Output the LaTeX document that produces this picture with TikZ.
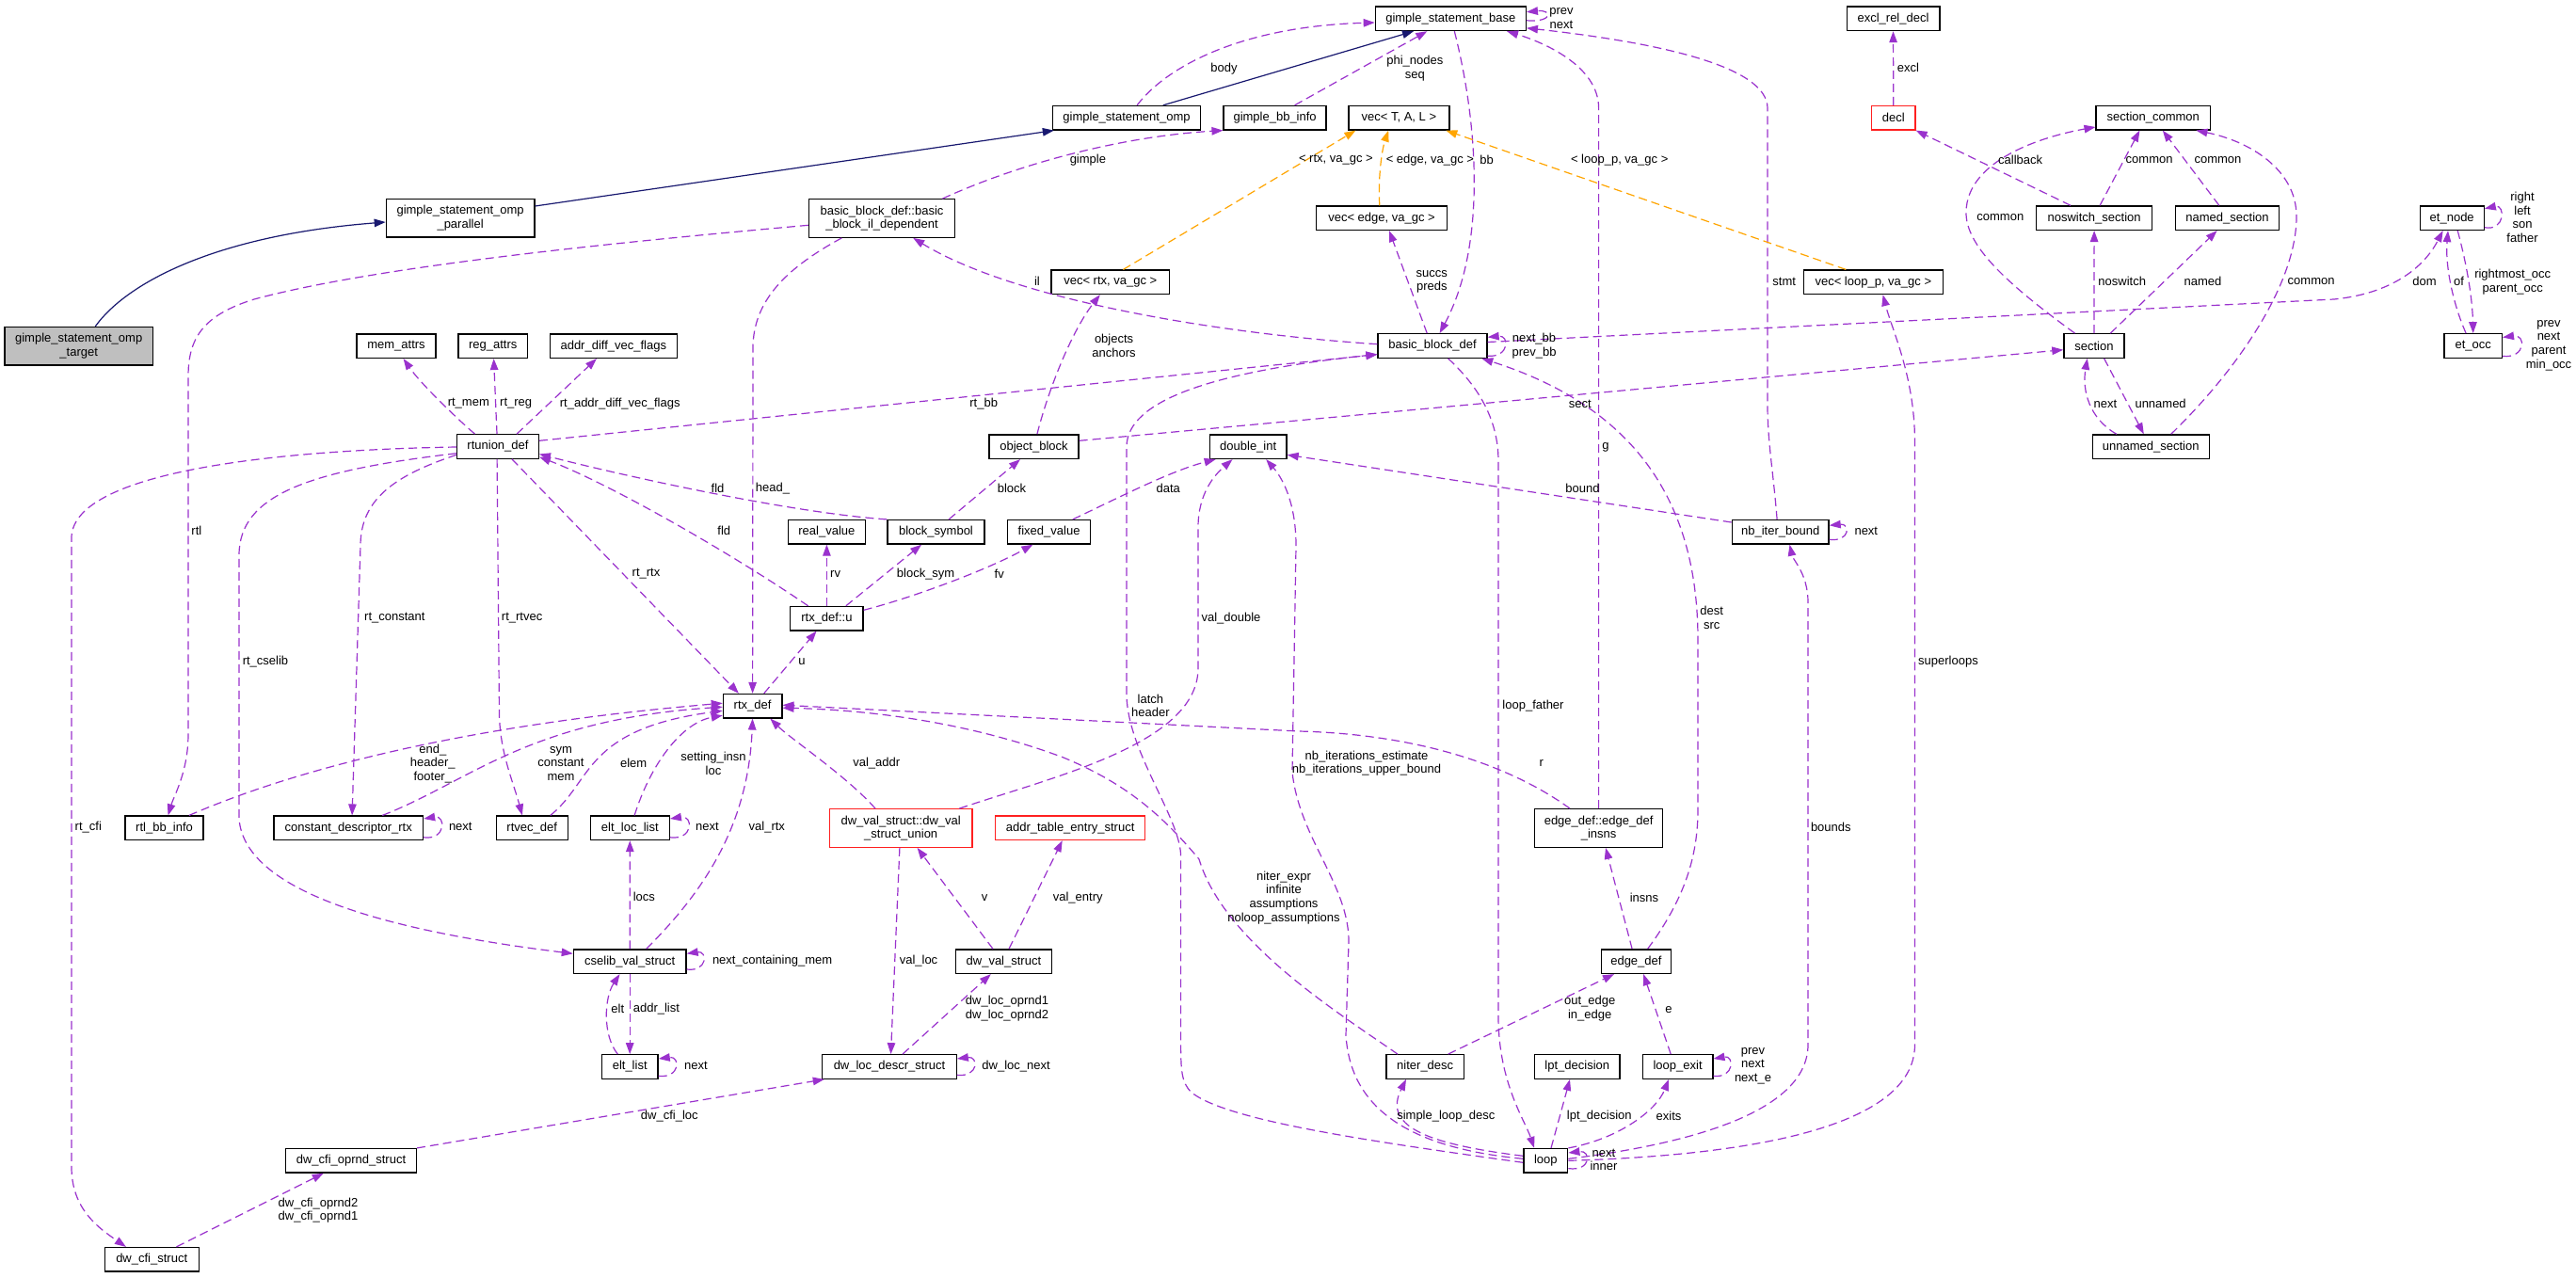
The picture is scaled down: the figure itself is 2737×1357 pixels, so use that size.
\documentclass[tikz,border=0pt]{standalone}
\usepackage{fontspec}
\setmainfont{Liberation Sans}
\usetikzlibrary{arrows.meta}
\definecolor{pec}{HTML}{9A32CD}
\definecolor{navyc}{HTML}{191970}
\definecolor{orc}{HTML}{FFA500}
\definecolor{grayfill}{HTML}{BFBFBF}
\definecolor{redc}{HTML}{FF2020}
\newcommand\lblfont{\fontsize{13}{14.7}\selectfont}
\begin{document}
\begin{tikzpicture}[x=1pt,y=-1pt,
  box/.style={draw=black,line width=1.3pt,fill=white,inner sep=0pt,minimum height=25.5pt,align=center,font=\lblfont},
  box2/.style={box,minimum height=40.5pt},
  redbox/.style={draw=redc},
  lab/.style={inner sep=0pt,align=center,font=\lblfont},
  pl/.style={draw=pec,line width=1.2pt,dash pattern=on 9pt off 5pt,-{Triangle[length=12pt,width=8.5pt]}},
  nl/.style={draw=navyc,line width=1.2pt,-{Triangle[length=12pt,width=8.5pt]}},
  ol/.style={draw=orc,line width=1.2pt,dash pattern=on 9pt off 5pt,-{Triangle[length=12pt,width=8.5pt]}}
]
\useasboundingbox[fill=white] (0,0) rectangle (2737,1357);

% ---------------- nodes ----------------
\node[box2,fill=grayfill,minimum width=157.6pt] (omptarget) at (83.7,367.7) {gimple\_statement\_omp\\\_target};
\node[box2,minimum width=157.6pt] (omppar) at (489.1,231.7) {gimple\_statement\_omp\\\_parallel};
\node[box,minimum width=84pt] (memattrs) at (421,367.7) {mem\_attrs};
\node[box,minimum width=73.3pt] (regattrs) at (523.7,367.7) {reg\_attrs};
\node[box,minimum width=135pt] (adfv) at (651.8,367.7) {addr\_diff\_vec\_flags};
\node[box,minimum width=157.1pt] (gsomp) at (1197,125.2) {gimple\_statement\_omp};
\node[box,minimum width=109pt] (gbbinfo) at (1354.6,125.2) {gimple\_bb\_info};
\node[box2,minimum width=155pt] (ildep) at (937,232) {basic\_block\_def::basic\\\_block\_il\_dependent};
\node[box,minimum width=125.5pt] (vecrtx) at (1179.8,299.8) {vec< rtx, va\_gc >};
\node[box,minimum width=160pt] (gsbase) at (1541.3,19.8) {gimple\_statement\_base};
\node[box,minimum width=107pt] (vectal) at (1486.4,125.2) {vec< T, A, L >};
\node[box,minimum width=139.3pt] (vecedge) at (1468,231.7) {vec< edge, va\_gc >};
\node[box,minimum width=116pt] (bbd) at (1522,367.5) {basic\_block\_def};
\node[box,minimum width=98.7pt] (excl) at (2011.5,19.8) {excl\_rel\_decl};
\node[box,redbox,minimum width=46.4pt] (decl) at (2011.8,125.2) {decl};
\node[box,minimum width=148pt] (vecloop) at (1990.3,299.8) {vec< loop\_p, va\_gc >};
\node[box,minimum width=121.4pt] (seccommon) at (2287.8,125.2) {section\_common};
\node[box,minimum width=123pt] (noswitch) at (2225.1,231.7) {noswitch\_section};
\node[box,minimum width=110.6pt] (named) at (2366.5,231.7) {named\_section};
\node[box,minimum width=64pt] (section) at (2224.9,367.5) {section};
\node[box,minimum width=68pt] (etnode) at (2605.2,231.7) {et\_node};
\node[box,minimum width=61.3pt] (etocc) at (2627.7,367.5) {et\_occ};
\node[box,minimum width=124pt] (unnamed) at (2285.2,474.7) {unnamed\_section};
\node[box,minimum width=86.6pt] (rtunion) at (529,474.5) {rtunion\_def};
\node[box,minimum width=83pt] (rtlbb) at (174.6,879.8) {rtl\_bb\_info};
\node[box,minimum width=158.5pt] (cdr) at (370.3,879.8) {constant\_descriptor\_rtx};
\node[box,minimum width=76pt] (rtvec) at (565.2,879.8) {rtvec\_def};
\node[box,minimum width=84pt] (eltloc) at (669.3,879.8) {elt\_loc\_list};
\node[box,minimum width=95pt] (objblock) at (1098.5,474.7) {object\_block};
\node[box,minimum width=81.7pt] (dint) at (1326.2,474.7) {double\_int};
\node[box,minimum width=81.7pt] (realv) at (878.4,565.3) {real\_value};
\node[box,minimum width=103pt] (blocksym) at (994.5,565.3) {block\_symbol};
\node[box,minimum width=88pt] (fixedv) at (1114.6,565.3) {fixed\_value};
\node[box,minimum width=77.2pt] (rtxu) at (878.4,657.2) {rtx\_def::u};
\node[box,minimum width=62.5pt] (rtx) at (799.6,750.2) {rtx\_def};
\node[box2,redbox,minimum width=151.8pt] (dwunion) at (957.2,880) {dw\_val\_struct::dw\_val\\\_struct\_union};
\node[box,redbox,minimum width=159pt] (addrtab) at (1137.1,879.8) {addr\_table\_entry\_struct};
\node[box2,minimum width=136.2pt] (edinsns) at (1698.6,880) {edge\_def::edge\_def\\\_insns};
\node[box,minimum width=102.7pt] (nbib) at (1891.7,565.3) {nb\_iter\_bound};
\node[box,minimum width=119.7pt] (cselib) at (669.2,1021.7) {cselib\_val\_struct};
\node[box,minimum width=59.8pt] (eltlist) at (669.2,1133.5) {elt\_list};
\node[box,minimum width=138.8pt] (cfioprnd) at (373,1233.3) {dw\_cfi\_oprnd\_struct};
\node[box,minimum width=100pt] (cfistruct) at (161.2,1338.3) {dw\_cfi\_struct};
\node[box,minimum width=102.2pt] (dwval) at (1066.4,1021.7) {dw\_val\_struct};
\node[box,minimum width=142.4pt] (dwloc) at (945,1133.5) {dw\_loc\_descr\_struct};
\node[box,minimum width=74.5pt] (edgedef) at (1738.4,1021.7) {edge\_def};
\node[box,minimum width=82.6pt] (niter) at (1514.2,1133.5) {niter\_desc};
\node[box,minimum width=90.6pt] (lpt) at (1675.8,1133.5) {lpt\_decision};
\node[box,minimum width=74.5pt] (loopexit) at (1782.6,1133.5) {loop\_exit};
\node[box,minimum width=46.9pt] (loop) at (1642.3,1233.3) {loop};

% ---------------- edges ----------------
\draw[nl] ([xshift=17.6]omptarget.north) .. controls (135,300) and (230,250) .. ([yshift=-4.3]omppar.west);
\draw[nl] ([yshift=12.7]omppar.east) -- ([xshift=2]gsomp.south west);
\draw[nl] ([xshift=38.8]gsomp.north) -- ([xshift=-39.3]gsbase.south);

\draw[pl] ([xshift=11.1]gsomp.north) .. controls (1240,70) and (1320,28) .. ([yshift=-4.2]gsbase.west);
\draw[pl] ([xshift=21]gbbinfo.north) -- ([xshift=-25]gsbase.south);
\draw[pl] ([yshift=-2]gsbase.east) .. controls (1650,24) and (1650,10) .. ([yshift=7]gsbase.east);
\draw[pl] ([xshift=-3.6]nbib.north) .. controls (1884,500) and (1878,470) .. (1878,430) -- (1878,115) .. controls (1878,70) and (1760,45) .. ([yshift=-10]gsbase.east);
\draw[pl] (edinsns.north) -- (1698.6,115) .. controls (1698.6,70) and (1640,45) .. ([xshift=59.7]gsbase.south);
\draw[pl] ([xshift=4]gsbase.south) .. controls (1570,130) and (1580,260) .. ([xshift=7.6]bbd.north);
\draw[pl] ([xshift=-5.8]bbd.north) -- ([xshift=8]vecedge.south);
\draw[ol] ([xshift=-2.2]vecedge.north) .. controls (1464,190) and (1468,160) .. ([xshift=-11.2]vectal.south);
\draw[ol] ([xshift=13.6]vecrtx.north) -- ([xshift=-46]vectal.south);
\draw[ol] ([xshift=-29]vecloop.north) -- ([xshift=49.9]vectal.south);
\draw[pl] (decl.north) -- (excl.south);
\draw[pl] ([xshift=-25.1]noswitch.north) -- (decl.south east);
\draw[pl] ([xshift=-20.4]section.north) .. controls (2130,300) and (2088,260) .. (2089,225) .. controls (2090,170) and (2170,145) .. ([yshift=-9.8]seccommon.west);
\draw[pl] ([xshift=6]noswitch.north) -- ([xshift=-14.4]seccommon.south);
\draw[pl] ([xshift=-8.7]named.north) -- ([xshift=10]seccommon.south);
\draw[pl] ([xshift=21.5]unnamed.north) .. controls (2380,390) and (2440,300) .. (2440,230) .. controls (2440,180) and (2390,150) .. ([xshift=45.6]seccommon.south);
\draw[pl] (section.north) -- (noswitch.south);
\draw[pl] ([xshift=17.4]section.north) -- ([xshift=-10.9]named.south);
\draw[pl] ([xshift=10.7]section.south) -- ([xshift=-7.4]unnamed.north);
\draw[pl] ([xshift=-36.3]unnamed.north) .. controls (2220,445) and (2212,415) .. ([xshift=-7.1]section.south);
\draw[pl] ([yshift=4]bbd.east) -- (2480,318) .. controls (2540,312) and (2575,285) .. ([xshift=-9.6]etnode.south);
\draw[pl] ([xshift=-7.6]etocc.north) .. controls (2605,320) and (2598,280) .. ([xshift=-4.2]etnode.south);
\draw[pl] ([xshift=6]etnode.south) .. controls (2622,285) and (2627,320) .. (etocc.north);
\draw[pl] ([yshift=-10]etnode.east) .. controls (2662,246) and (2662,217) .. ([yshift=10]etnode.east);
\draw[pl] ([yshift=-11]etocc.east) .. controls (2684,381) and (2684,355) .. ([yshift=9]etocc.east);
\draw[pl] ([yshift=-10.8]bbd.east) .. controls (1604,380) and (1604,356) .. ([yshift=9.2]bbd.east);
\draw[pl] ([yshift=6.4]objblock.east) -- ([yshift=-4.2]section.west);
\draw[pl] ([yshift=6.2]rtunion.east) -- ([yshift=-9.2]bbd.west);
\draw[pl] ([yshift=1.8]bbd.west) .. controls (1300,355) and (1080,320) .. ([xshift=33.2]ildep.south);
\draw[pl] ([xshift=64.4]ildep.north) .. controls (1080,175) and (1190,145) .. (gbbinfo.south west);
\draw[pl] ([yshift=-7.3]ildep.west) .. controls (650,258) and (400,283) .. (270,318) .. controls (215,335) and (200,360) .. (200,400) -- (200,780) .. controls (200,820) and (185,845) .. ([xshift=4]rtlbb.north);
\draw[pl] ([xshift=-42.7]ildep.south) .. controls (835,285) and (800,320) .. (800,370) -- (rtx.north);
\draw[pl] ([xshift=3.4]objblock.north) .. controls (1115,410) and (1140,350) .. ([xshift=-11]vecrtx.south);
\draw[pl] ([xshift=-24.5]rtunion.north) .. controls (480,440) and (445,405) .. ([xshift=7.6]memattrs.south);
\draw[pl] ([xshift=-1]rtunion.north) -- ([xshift=0.9]regattrs.south);
\draw[pl] ([xshift=20.1]rtunion.north) -- ([xshift=-17.9]adfv.south);
\draw[pl] ([yshift=-0.5]rtunion.west) .. controls (300,478) and (80,500) .. (76,570) -- (76,1240) .. controls (76,1285) and (105,1305) .. ([xshift=-27.3]cfistruct.north);
\draw[pl] ([yshift=-7.2]rtunion.west) .. controls (330,500) and (254,525) .. (254,590) -- (254,870) .. controls (260,950) and (420,990) .. ([yshift=8.4]cselib.west);
\draw[pl] ([yshift=-8.8]rtunion.west) .. controls (420,505) and (383,530) .. (383,580) -- ([xshift=3.8]cdr.north);
\draw[pl] ([xshift=-0.9]rtunion.south) -- (530.5,760) .. controls (531.5,800) and (545,830) .. ([xshift=-10.3]rtvec.north);
\draw[pl] ([xshift=15]rtunion.south) -- ([xshift=-14.7]rtx.north);
\draw[pl] (blocksym.north west) .. controls (840,545) and (660,505) .. ([yshift=-8]rtunion.east);
\draw[pl] ([xshift=-19.8]rtxu.north) .. controls (780,590) and (650,515) .. ([yshift=-11]rtunion.east);
\draw[pl] ([xshift=12.1]rtx.north) -- ([xshift=-10.9]rtxu.south);
\draw[pl] (rtxu.north) -- (realv.south);
\draw[pl] ([xshift=20.4]rtxu.north) -- ([xshift=-15.4]blocksym.south);
\draw[pl] ([yshift=8.9]rtxu.east) .. controls (970,635) and (1050,605) .. ([xshift=-17.2]fixedv.south);
\draw[pl] ([xshift=13.6]blocksym.north) -- ([xshift=-14.5]objblock.south);
\draw[pl] ([xshift=25.2]fixedv.north) .. controls (1190,528) and (1245,500) .. ([xshift=-34.6]dint.south);
\draw[pl] ([xshift=62.1]dwunion.north) .. controls (1120,825) and (1273,790) .. (1273,710) -- (1273,560) .. controls (1273,525) and (1290,505) .. ([xshift=-16.7]dint.south);
\draw[pl] ([yshift=2]loop.west) .. controls (1500,1220) and (1435,1180) .. (1430,1100) -- (1433,1000) .. controls (1433,940) and (1380,890) .. (1373,820) -- (1377,580) .. controls (1377,530) and (1360,505) .. ([xshift=19]dint.south);
\draw[pl] ([yshift=-2]loop.west) .. controls (1450,1212) and (1300,1190) .. (1265,1160) .. controls (1256,1150) and (1254.6,1140) .. (1254.6,1110) -- (1254.6,910) .. controls (1254.6,870) and (1199,800) .. (1197,740) -- (1197,475) .. controls (1197,425) and (1290,395) .. ([yshift=-9]bbd.west);
\draw[pl] ([xshift=-29.2]niter.north) .. controls (1420,1075) and (1300,1000) .. (1274,913) .. controls (1230,860) and (1190,830) .. (1130,805) .. controls (1050,775) and (950,755) .. ([yshift=-2]rtx.east);
\draw[pl] ([xshift=-30.6]edinsns.north) .. controls (1600,810) and (1500,780) .. (1380,777) -- ([yshift=1]rtx.east);
\draw[pl] ([xshift=-27.2]dwunion.north) .. controls (900,825) and (840,785) .. ([xshift=18.8]rtx.south);
\draw[pl] ([xshift=17.5]cselib.north) .. controls (745,950) and (795,880) .. (rtx.south);
\draw[pl] ([xshift=4.8]eltloc.north) .. controls (692,810) and (725,768) .. ([yshift=-10]rtx.west);
\draw[pl] ([xshift=19.6]rtvec.north) .. controls (630,830) and (620,775) .. ([yshift=-5]rtx.west);
\draw[pl] ([xshift=36]cdr.north) .. controls (500,830) and (560,765) .. ([yshift=-1]rtx.west);
\draw[pl] ([xshift=26.3]rtlbb.north) .. controls (320,815) and (500,770) .. ([yshift=3]rtx.west);
\draw[pl] (cselib.north) -- (eltloc.south);
\draw[pl] ([yshift=-8.3]cselib.east) .. controls (752,1033) and (752,1010) .. ([yshift=8.4]cselib.east);
\draw[pl] ([xshift=-12.9]eltlist.north) .. controls (640,1100) and (642,1060) .. ([xshift=-10.7]cselib.south);
\draw[pl] (cselib.south) -- (eltlist.north);
\draw[pl] ([yshift=-9.8]eltlist.east) .. controls (723,1146) and (723,1122) .. ([yshift=8.5]eltlist.east);
\draw[pl] ([yshift=-10]eltloc.east) .. controls (737,893) and (737,866) .. ([yshift=9.8]eltloc.east);
\draw[pl] ([yshift=-10]cdr.east) .. controls (474,893) and (474,866) .. ([yshift=9.8]cdr.east);
\draw[pl] ([xshift=-1.3]dwunion.south) -- ([xshift=1.5]dwloc.north);
\draw[pl] ([xshift=-11.4]dwval.north) -- ([xshift=17.4]dwunion.south);
\draw[pl] ([xshift=5.6]dwval.north) -- ([xshift=-8.4]addrtab.south);
\draw[pl] ([xshift=14]dwloc.north) -- ([xshift=-13.6]dwval.south);
\draw[pl] ([yshift=-8.8]dwloc.east) .. controls (1040,1145) and (1040,1122) .. ([yshift=8.5]dwloc.east);
\draw[pl] (cfioprnd.north east) -- ([xshift=2.6]dwloc.south west);
\draw[pl] ([xshift=26.3]cfistruct.north) -- ([xshift=-29.2]cfioprnd.south);
\draw[pl] ([xshift=-4.3]edgedef.north) -- ([xshift=7.4]edinsns.south);
\draw[pl] ([xshift=12.2]edgedef.north) .. controls (1790,955) and (1804,910) .. (1804,860) -- (1804,680) .. controls (1804,560) and (1760,440) .. ([xshift=52.3]bbd.south);
\draw[pl] ([xshift=16.6]bbd.south) .. controls (1570,410) and (1592,445) .. (1592,490) -- (1592,1080) .. controls (1592,1150) and (1620,1190) .. ([xshift=-12.2]loop.north);
\draw[pl] ([xshift=24.4]niter.north) -- ([xshift=-23.4]edgedef.south);
\draw[pl] ([yshift=5]loop.west) .. controls (1510,1215) and (1470,1195) .. ([xshift=-20.2]niter.south);
\draw[pl] ([xshift=5.7]loop.north) -- ([xshift=-7.8]lpt.south);
\draw[pl] (loop.north east) .. controls (1720,1210) and (1760,1180) .. ([xshift=-9.6]loopexit.south);
\draw[pl] ([xshift=-7.4]loopexit.north) -- ([xshift=7.8]edgedef.south);
\draw[pl] ([yshift=-9.8]loopexit.east) .. controls (1843,1146) and (1843,1121) .. ([yshift=8.5]loopexit.east);
\draw[pl] ([yshift=-8.3]loop.east) .. controls (1691,1245) and (1691,1222) .. ([yshift=8.3]loop.east);
\draw[pl] ([yshift=2]loop.east) .. controls (1800,1215) and (1921,1180) .. (1921,1110) -- (1921,640) .. controls (1921,610) and (1905,595) .. ([xshift=9.8]nbib.south);
\draw[pl] (loop.east) .. controls (1850,1228) and (2034.5,1200) .. (2034.5,1110) -- (2034.5,470) .. controls (2034.5,400) and (2010,350) .. ([xshift=10.3]vecloop.south);
\draw[pl] ([yshift=10.3]nbib.west) -- ([yshift=-8.6]dint.east);
\draw[pl] ([yshift=-8]nbib.east) .. controls (1966,576) and (1966,556) .. ([yshift=7]nbib.east);

% ---------------- labels ----------------
\node[lab] (l1) at (1300.5,72.7) {body};
\node[lab] (l2) at (1659,19.5) {prev\\next};
\node[lab] (l3) at (1503.3,72.5) {phi\_nodes\\seq};
\node[lab] (l4) at (1155.9,170) {gimple};
\node[lab] (l5) at (1419.4,170) {< rtx, va\_gc >};
\node[lab] (l6) at (1519.4,170) {< edge, va\_gc >};
\node[lab] (l7) at (1579.6,170) {bb};
\node[lab] (l8) at (1720.7,170) {< loop\_p, va\_gc >};
\node[lab] (l9) at (2027.4,72.3) {excl};
\node[lab] (l10) at (2146.7,170) {callback};
\node[lab] (l11) at (2283.6,170) {common};
\node[lab] (l12) at (2356.5,170) {common};
\node[lab] (l13) at (2125.3,231) {common};
\node[lab] (l14) at (2455.6,299) {common};
\node[lab] (l15) at (1895.7,299) {stmt};
\node[lab] (l16) at (1521.3,299.3) {succs\\preds};
\node[lab] (l17) at (1101.9,298.3) {il};
\node[lab] (l18) at (1183.6,367.3) {objects\\anchors};
\node[lab] (l19) at (2254.7,299) {noswitch};
\node[lab] (l20) at (2340.5,299) {named};
\node[lab] (l21) at (2576,299) {dom};
\node[lab] (l22) at (2612.5,299) {of};
\node[lab] (l23) at (2669.7,299.3) {rightmost\_occ\\parent\_occ};
\node[lab] (l24) at (2680,230.9) {right\\left\\son\\father};
\node[lab] (l25) at (2708,367) {prev\\next\\parent\\min\_occ};
\node[lab] (l26) at (1630,367.3) {next\_bb\\prev\_bb};
\node[lab] (l27) at (497.8,429) {rt\_mem};
\node[lab] (l28) at (548.2,429) {rt\_reg};
\node[lab] (l29) at (658.7,429) {rt\_addr\_diff\_vec\_flags};
\node[lab] (l30) at (1045.2,429) {rt\_bb};
\node[lab] (l31) at (1678.8,429) {sect};
\node[lab] (l32) at (2237,429) {next};
\node[lab] (l33) at (2295.6,429) {unnamed};
\node[lab] (l34) at (762.6,518.7) {fld};
\node[lab] (l35) at (821,519) {head\_};
\node[lab] (l36) at (1075,519) {block};
\node[lab] (l37) at (1241.2,519) {data};
\node[lab] (l38) at (1681.4,519) {bound};
\node[lab] (l39) at (1706,475) {g};
\node[lab] (l40) at (208.9,564.3) {rtl};
\node[lab] (l41) at (769.3,564.3) {fld};
\node[lab] (l42) at (1982.8,564.3) {next};
\node[lab] (l43) at (686.5,610) {rt\_rtx};
\node[lab] (l44) at (887.6,610) {rv};
\node[lab] (l45) at (983.6,610) {block\_sym};
\node[lab] (l46) at (1061.7,610) {fv};
\node[lab] (l47) at (1818.7,656.2) {dest\\src};
\node[lab] (l48) at (419.4,656.7) {rt\_constant};
\node[lab] (l49) at (554.6,656.7) {rt\_rtvec};
\node[lab] (l50) at (1308,656.7) {val\_double};
\node[lab] (l51) at (282,703.3) {rt\_cselib};
\node[lab] (l52) at (851.9,703.3) {u};
\node[lab] (l53) at (2070,703.3) {superloops};
\node[lab] (l54) at (1629,750) {loop\_father};
\node[lab] (l55) at (1222.4,749.7) {latch\\header};
\node[lab] (l56) at (1452,811.2) {nb\_iterations\_estimate\\nb\_iterations\_upper\_bound};
\node[lab] (l57) at (459.8,811.5) {end\_\\header\_\\footer\_};
\node[lab] (l58) at (596,811.5) {sym\\constant\\mem};
\node[lab] (l59) at (673.2,811) {elem};
\node[lab] (l60) at (758,811.5) {setting\_insn\\loc};
\node[lab] (l61) at (931.3,810.7) {val\_addr};
\node[lab] (l62) at (1637.7,810.7) {r};
\node[lab] (l63) at (93.8,878.7) {rt\_cfi};
\node[lab] (l64) at (489.3,878.7) {next};
\node[lab] (l65) at (751.4,878.7) {next};
\node[lab] (l66) at (814.8,878.7) {val\_rtx};
\node[lab] (l67) at (1945.3,878.7) {bounds};
\node[lab] (l68) at (1364,953.7) {niter\_expr\\infinite\\assumptions\\noloop\_assumptions};
\node[lab] (l69) at (684.4,953.3) {locs};
\node[lab] (l70) at (1046,954) {v};
\node[lab] (l71) at (1145.2,954) {val\_entry};
\node[lab] (l72) at (1747,954) {insns};
\node[lab] (l73) at (820.6,1020.7) {next\_containing\_mem};
\node[lab] (l74) at (976,1020.7) {val\_loc};
\node[lab] (l75) at (656.3,1072.3) {elt};
\node[lab] (l76) at (697.4,1072.3) {addr\_list};
\node[lab] (l77) at (1070,1071.8) {dw\_loc\_oprnd1\\dw\_loc\_oprnd2};
\node[lab] (l78) at (1689.2,1071.8) {out\_edge\\in\_edge};
\node[lab] (l79) at (1773,1072.7) {e};
\node[lab] (l80) at (739.4,1132.7) {next};
\node[lab] (l81) at (1079.6,1132.7) {dw\_loc\_next};
\node[lab] (l82) at (1862.5,1132.5) {prev\\next\\next\_e};
\node[lab] (l83) at (711.3,1185.7) {dw\_cfi\_loc};
\node[lab] (l84) at (1536.3,1185.7) {simple\_loop\_desc};
\node[lab] (l85) at (1699.3,1185.7) {lpt\_decision};
\node[lab] (l86) at (1773,1185.7) {exits};
\node[lab] (l87) at (1704,1232.2) {next\\inner};
\node[lab] (l88) at (338,1286) {dw\_cfi\_oprnd2\\dw\_cfi\_oprnd1};
\end{tikzpicture}
\end{document}
